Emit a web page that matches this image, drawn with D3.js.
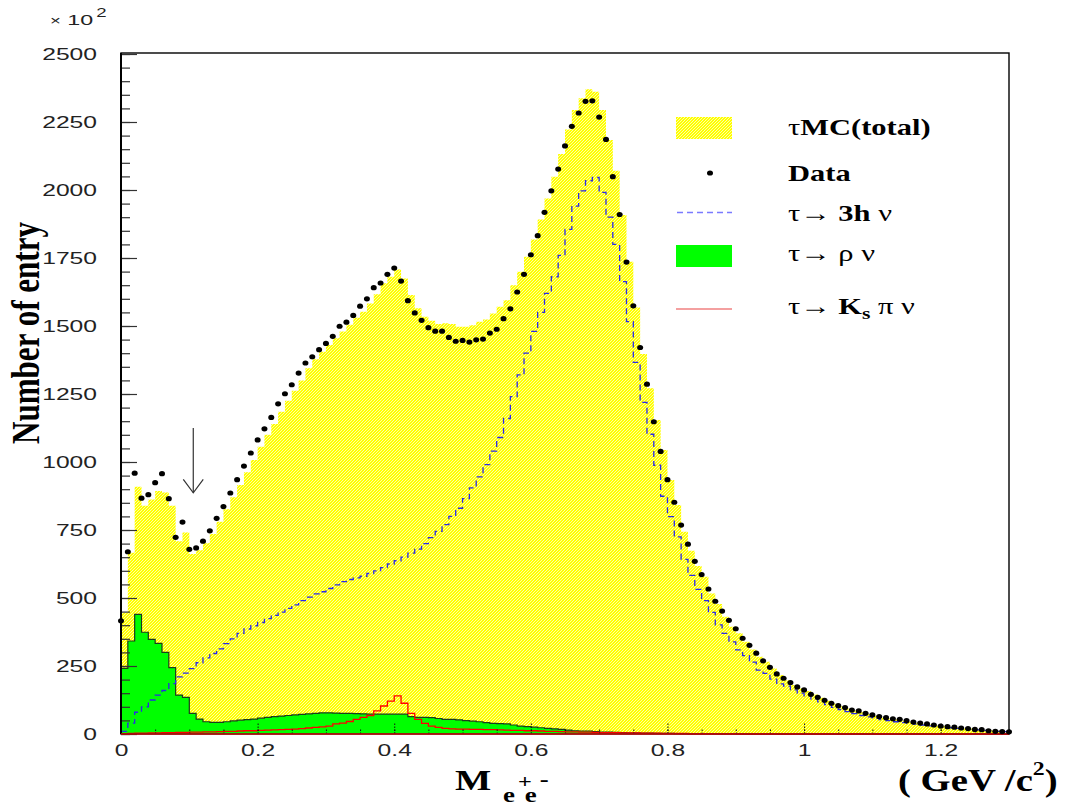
<!DOCTYPE html>
<html>
<head>
<meta charset="utf-8">
<script src="https://cdn.jsdelivr.net/npm/d3@7"></script>
<style>
html,body{margin:0;padding:0;background:#fff;}
svg{display:block;}
</style>
</head>
<body>
<svg id="chart" width="1071" height="806"></svg>
<script>
// ---------- DATA (units of 10^2 entries, 0.01 GeV/c^2 bins) ----------
const binWidth = 0.01;
const xMin = 0, xMax = 1.3;
const yTicksMajor = [0,250,500,750,1000,1250,1500,1750,2000,2250,2500];
const xTickLabels = [0,0.2,0.4,0.6,0.8,1,1.2];

const dataCounts = [416,670,959,867,880,924,957,865,723,779,679,684,709,747,793,836,886,935,985,1033,
1081,1122,1164,1214,1251,1284,1327,1364,1387,1413,1436,1462,1499,1514,1539,1573,1600,1641,1658,1690,
1713,1665,1593,1548,1521,1494,1481,1481,1458,1444,1447,1441,1449,1452,1474,1488,1527,1563,1625,1690,
1762,1832,1918,1997,2077,2162,2234,2283,2326,2328,2268,2186,2049,1910,1735,1574,1421,1286,1148,1039,
935,852,768,698,635,586,533,488,452,418,387,352,326,297,269,245,221,205,189,173,
162,146,135,124,113,104,97,88,85,76,70,64,60,56,54,49,44,40,37,33,
29,27,25,22,20,17,16,12,10,9,8];

const mcTotal = [446,666,909,839,862,893,888,839,709,741,662,676,701,735,780,826,870,915,962,1007,
1056,1100,1140,1185,1225,1262,1300,1345,1378,1405,1430,1455,1480,1505,1530,1552,1583,1617,1657,1681,
1708,1675,1614,1565,1534,1519,1507,1510,1507,1497,1497,1503,1516,1524,1546,1571,1595,1650,1699,1755,
1818,1892,1969,2049,2132,2222,2294,2337,2370,2361,2294,2184,2071,1908,1736,1568,1397,1271,1154,1044,
934,842,744,674,618,578,517,478,431,394,370,339,311,284,266,241,217,198,180,168,
158,145,133,122,111,102,94,86,80,73,67,62,57,53,49,45,42,38,35,32,
29,27,24,22,20,18,16,14,12,10];

const tau3h = [10,40,80,100,125,143,160,185,210,224,240,262,280,296,313,332,350,370,386,398,
410,424,436,448,462,475,490,503,515,523,535,548,560,568,574,580,590,600,612,625,
637,650,665,680,700,722,745,770,800,830,865,905,945,990,1040,1090,1160,1240,1320,1400,
1480,1550,1620,1681,1760,1855,1941,1997,2034,2046,1991,1900,1800,1663,1516,1366,1219,1102,988,874,
799,725,642,583,532,490,447,401,370,339,309,288,264,235,223,202,184,176,162,150,
140,128,118,108,98,90,82,75,68,63,58,53,49,45,42,39,36,33,30,28,
25,23,21,19,17,15,13,12,10,9];

const tauRho = [241,342,440,374,348,333,300,244,143,135,76,55,45,43,43,45,48,51,53,55,
58,61,64,66,68,70,72,74,76,78,78,77,76,76,75,74,73,73,73,73,
73,73,64,61,61,60,57,54,54,52,49,47,45,42,39,38,37,33,29,27,
25,23,21,19,17,14,12,11,11,9,7,7,6,5,4,4,3,3,2,2,
2,1,1,1,1,1,1,1,1,1,0,0,0,0,0,0,0,0,0,0,
0,0,0,0,0,0,0,0,0,0,0,0,0,0,0,0,0,0,0,0,
0,0,0,0,0,0,0,0,0,0];

const tauKsPi = [1,2,3,3,4,4,5,5,6,6,7,7,8,8,9,10,10,11,12,12,
13,14,15,16,17,18,20,22,24,26,29,37,40,46,54,61,68,85,103,121,
140,113,76,54,39,29,24,21,19,18,18,17,17,16,16,15,14,13,13,12,
12,11,10,10,9,8,8,7,7,6,5,5,5,4,4,4,3,3,3,2,
2,2,2,1,1,1,1,1,1,1,0,0,0,0,0,0,0,0,0,0,
0,0,0,0,0,0,0,0,0,0,0,0,0,0,0,0,0,0,0,0,
0,0,0,0,0,0,0,0,0,0];

const legendLabels = ["MC(total)", "Data", "3h ν", "ρ ν", "K", "π ν"];

// ---------- LAYOUT ----------
const svg = d3.select("#chart");
const x = d3.scaleLinear().domain([xMin, xMax]).range([121, 1009]);
const y = d3.scaleLinear().domain([0, 2500]).range([734, 54]);

const defs = svg.append("defs");
const pat = defs.append("pattern").attr("id","mcpat").attr("patternUnits","userSpaceOnUse")
  .attr("width",3).attr("height",3);
pat.append("rect").attr("width",3).attr("height",3).attr("fill","#ffff00");
[[0,0],[2,1],[1,2]].forEach(p=>pat.append("rect").attr("x",p[0]).attr("y",p[1]).attr("width",1).attr("height",1).attr("fill","#ffffa6"));
defs.append("clipPath").attr("id","plotclip").append("rect")
  .attr("x",121).attr("y",50).attr("width",888).attr("height",690);

const edge = i => xMin + i*binWidth;
function histPts(vals){
  const pts = vals.map((v,i)=>[edge(i), v]);
  pts.push([edge(vals.length), vals[vals.length-1]]);
  return pts;
}
const area = d3.area().curve(d3.curveStepAfter).x(d=>x(d[0])).y0(y(0)).y1(d=>y(d[1]));
const line = d3.line().curve(d3.curveStepAfter).x(d=>x(d[0])).y(d=>y(d[1]));

const g = svg.append("g").attr("clip-path","url(#plotclip)");
g.append("path").attr("d", area(histPts(mcTotal))).attr("fill","url(#mcpat)");
g.append("path").attr("d", area(histPts(tauRho))).attr("fill","#00ff00");
g.append("path").attr("d", line(histPts(tauRho))).attr("fill","none").attr("stroke","#1b3d1b").attr("stroke-width",1.2);
g.append("path").attr("d", line(histPts(tauKsPi))).attr("fill","none").attr("stroke","#ff0000").attr("stroke-width",1.3);
g.append("path").attr("d", line(histPts(tau3h))).attr("fill","none").attr("stroke","#2a2ae6")
  .attr("stroke-width",1.3).attr("stroke-dasharray","6,4");

// axes
const sx = 1.45;
function styleLabels(sel){
  sel.selectAll("text").each(function(){
    const t = d3.select(this);
    const xx = +t.attr("x") || 0;
    t.attr("x", xx/sx).attr("transform", `scale(${sx},1)`);
  });
}
const yMinor = svg.append("g").attr("transform","translate(121,0)")
  .call(d3.axisLeft(y).tickValues(d3.range(0,2501,50)).tickSize(-9).tickFormat(""));
const yMajor = svg.append("g").attr("transform","translate(121,0)")
  .call(d3.axisLeft(y).tickValues(yTicksMajor).tickSize(-16).tickPadding(24).tickFormat(d3.format("d")));
[yMinor,yMajor].forEach(a=>{a.select(".domain").remove(); a.selectAll("line").attr("stroke","#333").attr("stroke-width",1.2);});
yMajor.selectAll("text").attr("font-family","Liberation Sans, Arial, sans-serif").attr("font-size",17).attr("fill","#222");
styleLabels(yMajor);

const xMinorAx = svg.append("g").attr("transform","translate(0,734)")
  .call(d3.axisBottom(x).tickValues(d3.range(0,1.3001,0.05)).tickSize(-6).tickFormat(""));
const xMajorAx = svg.append("g").attr("transform","translate(0,734)")
  .call(d3.axisBottom(x).tickValues(xTickLabels).tickSize(-12).tickPadding(10).tickFormat(d=>d3.format("")(d)));
[xMinorAx,xMajorAx].forEach(a=>{a.select(".domain").remove(); a.selectAll("line").attr("stroke","#111").attr("stroke-width",1).attr("stroke-dasharray","1.5,1.5");});
xMajorAx.selectAll("text").attr("font-family","Liberation Sans, Arial, sans-serif").attr("font-size",17).attr("fill","#222");
styleLabels(xMajorAx);

// frame
svg.append("rect").attr("x",121).attr("y",53).attr("width",888).attr("height",681)
  .attr("fill","none").attr("stroke","#000").attr("stroke-width",1.4);
svg.append("line").attr("x1",121).attr("x2",121).attr("y1",53).attr("y2",734).attr("stroke","#000").attr("stroke-width",2);
svg.append("line").attr("x1",x(0)).attr("x2",x(1.3)).attr("y1",y(0)).attr("y2",y(0)).attr("stroke","#cc1010").attr("stroke-width",1.3);

// data points
svg.append("g").selectAll("ellipse").data(dataCounts).join("ellipse")
  .attr("cx",(d,i)=>x(edge(i))).attr("cy",d=>y(d)).attr("rx",3).attr("ry",2.6).attr("fill","#000");

// arrow
const ax = x(0.1058);
const arrow = svg.append("g").attr("stroke","#333").attr("stroke-width",1.2).attr("fill","none");
arrow.append("line").attr("x1",ax).attr("x2",ax).attr("y1",y(1125)).attr("y2",y(887));
arrow.append("path").attr("d",`M${x(0.0912)},${y(936)} L${ax},${y(887)} L${x(0.1204)},${y(936)}`);

// text helper
function txt(xp, yp, o){
  const t = svg.append("text").attr("transform",`translate(${xp},${yp}) scale(${o.sx||1.28},1)` + (o.rot?` rotate(${o.rot})`:""))
    .attr("font-family", o.ff || "Liberation Serif, Times New Roman, serif")
    .attr("font-size", o.fs || 24).attr("font-weight", o.fw || "bold")
    .attr("text-anchor", o.anchor || "start").attr("fill", o.fill || "#000");
  if (o.tl) t.attr("textLength", o.tl).attr("lengthAdjust","spacingAndGlyphs");
  return t;
}
function parts(t, arr){
  arr.forEach(p=>{
    const ts = t.append("tspan").text(p.s);
    if (p.dx != null) ts.attr("dx", p.dx);
    if (p.dy != null) ts.attr("dy", p.dy);
    if (p.fs) ts.attr("font-size", p.fs);
    if (p.fw) ts.attr("font-weight", p.fw);
  });
  return t;
}

// x10^2 exponent
parts(txt(50, 25, {ff:"Liberation Sans, Arial, sans-serif", fw:"normal", fs:15, sx:1.55, fill:"#222"}),
  [{s:"×", fs:12},{s:" 10", dx:0},{s:"2", dy:-8, dx:2, fs:12}]);

// Y title
txt(39, 333, {fs:31, anchor:"middle", sx:1.3, rot:-90, tl:222}).text("Number of entry");

// X title: M with e+e- indices
parts(txt(455, 790, {fs:30, sx:1.28}), [
  {s:"M"}, {s:"e", dx:9.2, dy:12, fs:21}, {s:"+", dx:2.4, dy:-14, fs:19}, {s:"e", dx:-5.5, dy:14, fs:21}, {s:"-", dx:2.4, dy:-16, fs:21}
]);
parts(txt(898, 791, {fs:31, sx:1.25}), [
  {s:"( GeV /c"}, {s:"2", dy:-16, fs:19}, {s:")", dy:16}
]);

// legend
const lg = svg.append("g");
lg.append("rect").attr("x",676).attr("y",117).attr("width",56).attr("height",22).attr("fill","url(#mcpat)");
lg.append("ellipse").attr("cx",710).attr("cy",173).attr("rx",3).attr("ry",2.6).attr("fill","#000");
lg.append("line").attr("x1",677).attr("x2",732).attr("y1",212.5).attr("y2",212.5).attr("stroke","#7a7aff").attr("stroke-width",1.3).attr("stroke-dasharray","6,4");
lg.append("rect").attr("x",676).attr("y",245).attr("width",56).attr("height",22).attr("fill","#00ff00");
lg.append("line").attr("x1",676).attr("x2",732).attr("y1",309).attr("y2",309).attr("stroke","#f08080").attr("stroke-width",1.6);

function legText(yp, arr){
  const t = svg.append("text").attr("transform",`translate(788,${yp}) scale(1.27,1)`)
    .attr("font-family","Liberation Serif, Times New Roman, serif").attr("font-size",24).attr("fill","#000");
  arr.forEach(p=>{
    const ts = t.append("tspan").text(p.s).attr("font-weight", p.b ? "bold":"normal");
    if (p.dy) ts.attr("dy", p.dy);
    if (p.fs) ts.attr("font-size", p.fs);
  });
}
legText(135, [{s:"τ"},{s:legendLabels[0], b:true}]);
legText(181, [{s:legendLabels[1], b:true}]);
legText(221, [{s:"τ→ "},{s:"3h", b:true},{s:" ν"}]);
legText(261, [{s:"τ→ ρ ν"}]);
legText(314, [{s:"τ→ "},{s:legendLabels[4], b:true},{s:"s", b:true, dy:5, fs:17},{s:" π ν", dy:-5}]);
</script>
</body>
</html>
